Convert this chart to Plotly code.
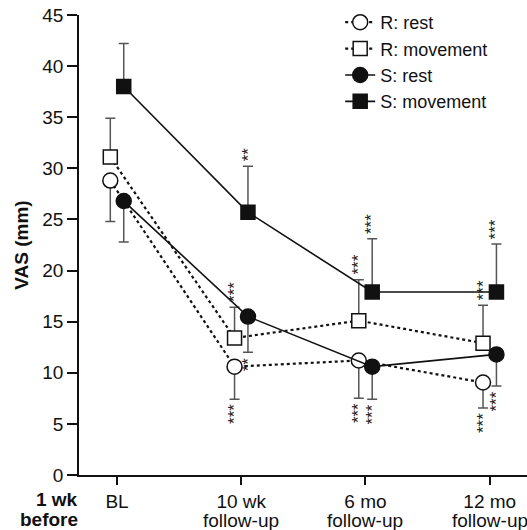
import plotly.graph_objects as go

cat_line1 = ["BL", "10 wk", "6 mo", "12 mo"]
cat_line2 = ["", "follow-up", "follow-up", "follow-up"]
pre_label = ["1 wk", "before"]

r_rest = [28.8, 10.6, 11.2, 9.05]
r_rest_err = [4.0, 3.2, 3.7, 2.5]
r_move = [31.1, 13.4, 15.1, 12.9]
r_move_err = [3.8, 3.0, 4.0, 3.7]
s_rest = [26.8, 15.5, 10.6, 11.8]
s_rest_err = [4.0, 3.5, 3.2, 3.1]
s_move = [38.0, 25.7, 17.9, 17.9]
s_move_err = [4.2, 4.5, 5.2, 4.7]

# significance marks per series per timepoint ("" = none)
r_rest_sig = ["", "***", "***", "***"]
r_move_sig = ["", "***", "***", "***"]
s_rest_sig = ["", "**", "***", "***"]
s_move_sig = ["", "**", "***", "***"]

FONT = "Liberation Sans, Arial, Helvetica, sans-serif"
FS = 19
OFF = 0.054
pos = list(range(1, len(cat_line1) + 1))
xr = [p - OFF for p in pos]
xs = [p + OFF for p in pos]

fig = go.Figure()

def add(name, x, y, err, up, dash, symbol, fill, lw):
    zeros = [0] * len(err)
    fig.add_trace(go.Scatter(
        x=x, y=y, name=name, mode="lines+markers",
        line=dict(color="#111", width=lw, dash=dash),
        marker=dict(symbol=symbol, size=15 if "circle" in symbol else 14,
                    color=fill, line=dict(color="#111", width=1.5)),
        error_y=dict(type="data", symmetric=False,
                     array=err if up else zeros,
                     arrayminus=zeros if up else err,
                     color="#555", thickness=1.5, width=5),
    ))

add("R: rest", xr, r_rest, r_rest_err, False, "dot", "circle", "white", 2.2)
add("R: movement", xr, r_move, r_move_err, True, "dot", "square", "white", 2.2)
add("S: rest", xs, s_rest, s_rest_err, False, "solid", "circle", "#111", 1.6)
add("S: movement", xs, s_move, s_move_err, True, "solid", "square", "#111", 1.6)

annotations = []
def stars(x, y, err, sig, up):
    for xi, yi, ei, si in zip(x, y, err, sig):
        if not si:
            continue
        annotations.append(dict(
            x=xi, y=yi + ei if up else yi - ei, xref="x", yref="y",
            text=si, showarrow=False, textangle=-90,
            font=dict(family=FONT, size=17, color="#222"),
            yanchor="bottom" if up else "top",
            yshift=3 if up else -3,
        ))

stars(xr, r_rest, r_rest_err, r_rest_sig, False)
stars(xr, r_move, r_move_err, r_move_sig, True)
stars(xs, s_rest, s_rest_err, s_rest_sig, False)
stars(xs, s_move, s_move_err, s_move_sig, True)

for p, t in zip(pos, cat_line2):
    if t:
        annotations.append(dict(
            x=p, y=0, xref="x", yref="paper", xanchor="center", yanchor="middle",
            yshift=-45, text=t, showarrow=False,
            font=dict(family=FONT, size=FS, color="#111"),
        ))

for t, shift in zip(pre_label, [-24.5, -44]):
    annotations.append(dict(
        x=0, y=0, xref="paper", yref="paper", xanchor="right", yanchor="middle",
        xshift=1, yshift=shift, text="<b>" + t + "</b>", showarrow=False,
        font=dict(family=FONT, size=FS, color="#111"),
    ))

fig.update_layout(
    width=527, height=530,
    margin=dict(l=79, r=0, t=15, b=55),
    paper_bgcolor="white", plot_bgcolor="white",
    font=dict(family=FONT, size=FS, color="#111"),
    showlegend=True,
    legend=dict(x=0.583, y=1.024, xanchor="left", yanchor="top",
                bgcolor="rgba(0,0,0,0)", font=dict(size=18),
                tracegroupgap=0, itemsizing="trace"),
    annotations=annotations,
    xaxis=dict(
        range=[0.694, 4.3], tickmode="array", tickvals=pos, ticktext=cat_line1,
        showline=True, linecolor="#111", linewidth=1.8,
        ticks="outside", ticklen=8, tickwidth=1.5, tickcolor="#111",
        showgrid=False, zeroline=False, automargin=False,
        tickfont=dict(family=FONT, size=FS, color="#111"),
    ),
    yaxis=dict(
        range=[0, 45], tickmode="linear", tick0=0, dtick=5,
        showline=True, linecolor="#111", linewidth=1.8,
        ticks="outside", ticklen=10, tickwidth=1.5, tickcolor="#111",
        showgrid=False, zeroline=False, automargin=False,
        tickfont=dict(family=FONT, size=FS, color="#111"),
        title=dict(text="<b>VAS (mm)</b>", font=dict(family=FONT, size=FS), standoff=9),
    ),
)

fig.write_html("out.html", config={"displayModeBar": False},
               post_script="document.body.style.margin='0px';")
